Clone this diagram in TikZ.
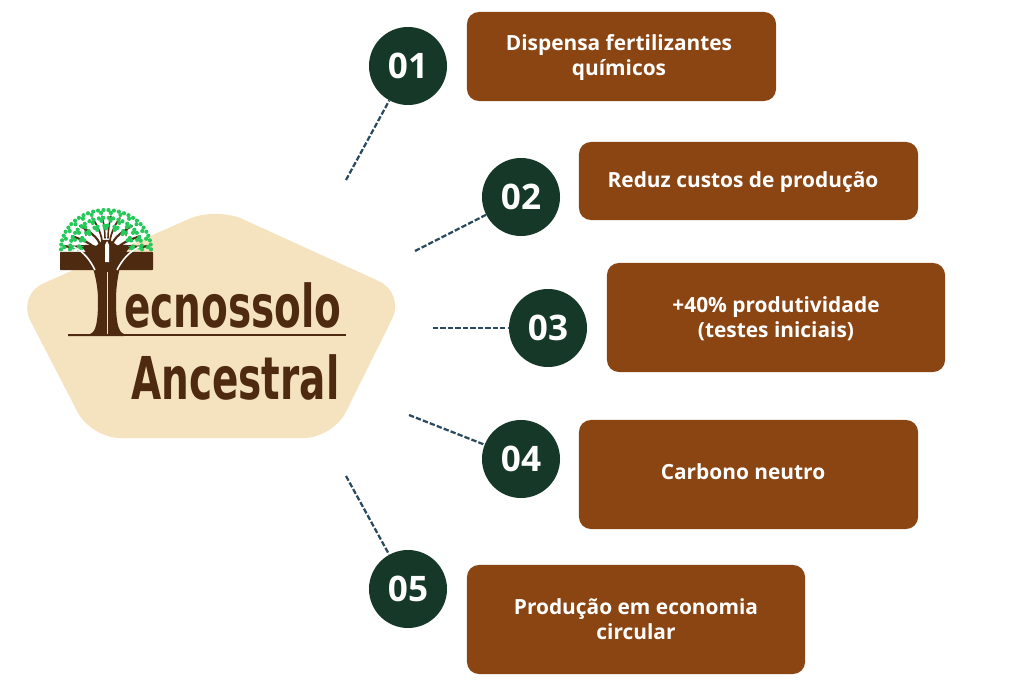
\documentclass[tikz,border=0pt]{standalone}
\usepackage{fontspec}
\setmainfont{Open Sans}
\newfontfamily\logofont[BoldFeatures={FakeStretch=0.66}]{DejaVu Sans}
\usetikzlibrary{positioning}
\definecolor{cream}{HTML}{F5E3C0}
\definecolor{rust}{HTML}{8B4513}
\definecolor{pine}{HTML}{163828}
\definecolor{bark}{HTML}{4E2A10}
\definecolor{leaf}{HTML}{25C95A}
\definecolor{slate}{HTML}{2B4A5E}

\begin{document}
\begin{tikzpicture}[
  x=0.025cm, y=-0.025cm,
  num/.style={circle, fill=pine, text=white, minimum size=1.95cm, inner sep=0pt, font=\fontsize{25}{25}\selectfont\bfseries},
  box/.style={fill=rust, rounded corners=0.3cm, inner sep=0pt},
  lab/.style={text=white, align=center, font=\fontsize{14.85}{17.8}\selectfont\bfseries},
  link/.style={slate, line width=1.6pt, dash pattern=on 3.8pt off 1.5pt},
  logo/.style={text=bark, inner sep=0pt, anchor=base west, font=\logofont\fontsize{42}{42}\selectfont\bfseries}
]
\useasboundingbox (0,0) rectangle (1024,682);

% pentagon
\fill[cream, rounded corners=0.72cm] (216,207) -- (405,293) -- (333,438) -- (91,438) -- (17,295) -- cycle;

% tree branches
\foreach \a/\b/\c/\d/\w in {
  98/250/64/246/1.6, 96/252/72/236/1.5, 100/246/80/226/1.5, 102/242/92/218/1.2, 105/238/102/216/1.1,
  114/250/148/246/1.6, 116/252/140/236/1.5, 112/246/132/226/1.5, 110/242/120/218/1.2, 108/238/111/216/1.1} {
  \draw[bark, line width=\w pt, line cap=round] (\a,\b) .. controls (\a,{\b-8}) and ({\c+(\a-\c)*0.3},{\d+3}) .. (\c,\d);
}
\draw[bark, line width=0.8pt] (86,236) -- (84,224);
\draw[bark, line width=0.8pt] (126,236) -- (128,224);

% tree crown
\foreach \r/\n in {1.0/13, 0.8/11, 0.6/8} {
  \foreach \i in {0,...,\n} {
    \pgfmathsetmacro{\ang}{180+3+(180-6)*\i/\n}
    \foreach \da/\dr in {-3.5/0, 3.5/0, 0/0.07} {
      \fill[leaf] ({106+45*(\r-\dr)*cos(\ang+\da)},{249+39*(\r-\dr)*sin(\ang+\da)}) circle[radius=2.1];
    }
  }
}

% T trunk and bar
\fill[bark, rounded corners=0.5pt] (60,252) rectangle (153,270);
\fill[bark] (68,334) -- (90,334) .. controls (96,332) and (98,322) .. (98,300) .. controls (98,282) and (92,258) .. (82,247)
  -- (96,246) -- (103,240) -- (110,240) -- (118,246) -- (130,247)
  .. controls (120,258) and (116,282) .. (116,300) .. controls (116,322) and (118,332) .. (124,334) -- (124,336) -- (68,336) -- cycle;
\fill[white] (105,262) -- (105,245) -- (107,241) -- (109,245) -- (109,262) -- cycle;
\draw[white, line width=1.1pt] (74,247) .. controls (84,252) and (90,260) .. (95,270);
\draw[white, line width=1.1pt] (139,247) .. controls (129,252) and (122,260) .. (117,270);
\draw[cream, line width=0.4pt] (107,272) -- (107,335);

% wordmark
\node[logo] (tecno) at (124,327) {ecnossolo};
\draw[bark, line width=1.2pt] (68,335) -- (346,335);
\node[logo] (ances) at (131,399) {Ancestral};

% numbers
\node[num] (n01) at (408,66) {01};
\node[num] (n02) at (521,197) {02};
\node[num] (n03) at (548,328) {03};
\node[num] (n04) at (521,459) {04};
\node[num] (n05) at (408,589) {05};

% boxes
\node[box, minimum width=7.725cm, minimum height=2.225cm] (b01) at (621.5,56.5) {};
\node[box, minimum width=8.475cm, minimum height=1.95cm] (b02) at (748.5,181) {};
\node[box, minimum width=8.45cm, minimum height=2.725cm] (b03) at (776,317.5) {};
\node[box, minimum width=8.475cm, minimum height=2.725cm] (b04) at (748.5,474.5) {};
\node[box, minimum width=8.45cm, minimum height=2.725cm] (b05) at (636,619.5) {};

\node[lab] (t01) at (619,58) {Dispensa fertilizantes\\químicos};
\node[lab] (t02) at (743,182) {Reduz custos de produção};
\node[lab] (t03) at (776,318.5) {+40\% produtividade\\(testes iniciais)};
\node[lab] (t04) at (743,472) {Carbono neutro};
\node[lab] (t05) at (636,619.5) {Produção em economia\\circular};

% dashed links
\coordinate (e01) at (346,180);
\coordinate (e02) at (415,251);
\coordinate (e03) at (433,328);
\coordinate (e04) at (409,415);
\coordinate (e05) at (346,476);
\draw[link] (e01) -- (n01);
\draw[link] (e02) -- (n02);
\draw[link] (e03) -- (n03);
\draw[link] (e04) -- (n04);
\draw[link] (e05) -- (n05);
\end{tikzpicture}
\end{document}
